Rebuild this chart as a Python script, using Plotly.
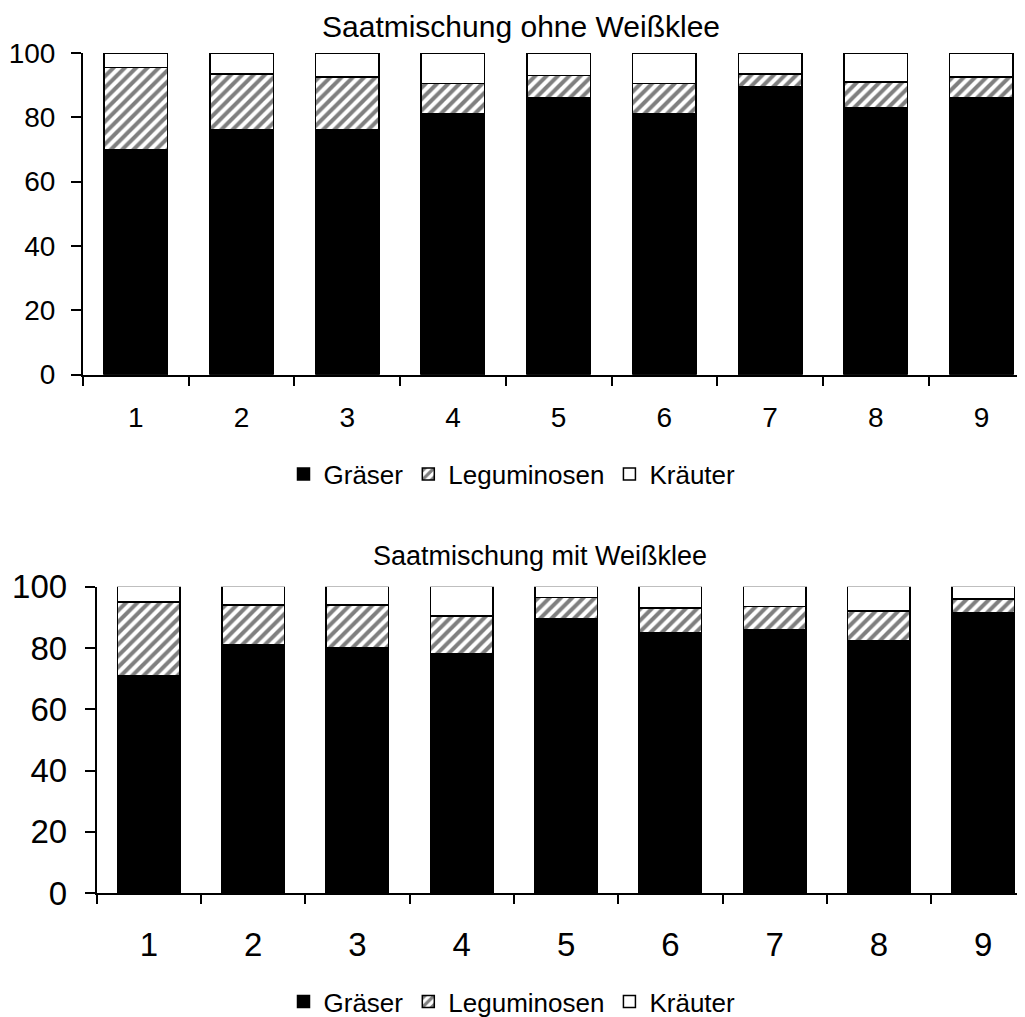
import plotly.graph_objects as go

categories = ["1", "2", "3", "4", "5", "6", "7", "8", "9"]
series_names = ["Gräser", "Leguminosen", "Kräuter"]

# Saatmischung ohne Weißklee
ohne_graeser = [70, 76, 76, 81, 86, 81, 89.5, 83, 86]
ohne_legum = [25.5, 17.5, 16.5, 9.5, 7, 9.5, 4, 8, 6.5]
ohne_kraeuter = [4.5, 6.5, 7.5, 9.5, 7, 9.5, 6.5, 9, 7.5]

# Saatmischung mit Weißklee
mit_graeser = [71, 81, 80, 78, 89.5, 85, 86, 82.5, 91.5]
mit_legum = [24, 13, 14, 12.5, 7, 8, 7.5, 9.5, 4.5]
mit_kraeuter = [5, 6, 6, 9.5, 3.5, 7, 6.5, 8, 4]

y_ticks = [0, 20, 40, 60, 80, 100]

FONT = "Liberation Sans, Arial, sans-serif"
W, H = 1025, 1017
OFF = 8  # default page body margin


def px_x(p):
    return (p - OFF) / W


def px_y(p):
    return 1 - (p - OFF) / H


styles = [
    dict(color="black", line=dict(color="black", width=1.5)),
    dict(color="white", line=dict(color="black", width=1.5),
         pattern=dict(shape="/", fgcolor="black", bgcolor="white", size=8, solidity=0.5)),
    dict(color="white", line=dict(color="black", width=1.5)),
]

fig = go.Figure()

for ax, legend, vals in [
    ("", "legend", [ohne_graeser, ohne_legum, ohne_kraeuter]),
    ("2", "legend2", [mit_graeser, mit_legum, mit_kraeuter]),
]:
    for name, v, st in zip(series_names, vals, styles):
        fig.add_trace(go.Bar(
            x=categories, y=v, name=name, marker=st,
            xaxis="x" + ax, yaxis="y" + ax, legend=legend,
        ))

# geometry (page pixels)
top = dict(x0=83, y100=53, y0=375, step=105.7, fs=28)
bot = dict(x0=96.7, y100=587.3, y0=894, step=104.3, fs=33)


def axes(g, xname, yname, xstand, ystand):
    xr = [-0.5, -0.5 + (W + OFF - g["x0"]) / g["step"]]
    xa = dict(
        type="category", domain=[px_x(g["x0"]), 1], range=xr, anchor=yname,
        showline=True, linecolor="black", linewidth=2, ticks="outside",
        ticklen=9, tickwidth=2, tickcolor="black", tickson="boundaries",
        showgrid=False, zeroline=False, ticklabelstandoff=xstand, automargin=False,
        tickfont=dict(family=FONT, size=g["fs"], color="black"),
    )
    ya = dict(
        domain=[px_y(g["y0"]), px_y(g["y100"])], range=[0, 100], anchor=xname,
        showline=True, linecolor="black", linewidth=2, ticks="outside",
        ticklen=10, tickwidth=2, tickcolor="black", tickvals=y_ticks,
        showgrid=False, zeroline=False, ticklabelstandoff=ystand, automargin=False,
        tickfont=dict(family=FONT, size=g["fs"], color="black"),
    )
    return xa, ya


xa1, ya1 = axes(top, "x", "y", 17, 10)
xa2, ya2 = axes(bot, "x2", "y2", 21, 11)

leg_common = dict(
    orientation="h", xanchor="center", yanchor="middle",
    font=dict(family=FONT, size=26, color="black"),
    bgcolor="rgba(0,0,0,0)", itemwidth=30, traceorder="normal",
)

fig.update_layout(
    width=W, height=H,
    margin=dict(l=0, r=0, t=0, b=0),
    paper_bgcolor="white", plot_bgcolor="white",
    barmode="stack", bargap=0.4,
    showlegend=True,
    xaxis=xa1, yaxis=ya1, xaxis2=xa2, yaxis2=ya2,
    legend=dict(x=px_x(512), y=px_y(474), **leg_common),
    legend2=dict(x=px_x(512), y=px_y(1002), **leg_common),
    annotations=[
        dict(text="Saatmischung ohne Weißklee", x=px_x(521), y=px_y(27),
             xref="paper", yref="paper", showarrow=False,
             xanchor="center", yanchor="middle",
             font=dict(family=FONT, size=30, color="black")),
        dict(text="Saatmischung mit Weißklee", x=px_x(540), y=px_y(557),
             xref="paper", yref="paper", showarrow=False,
             xanchor="center", yanchor="middle",
             font=dict(family=FONT, size=27, color="black")),
    ],
)

fig.write_html("out.html")
